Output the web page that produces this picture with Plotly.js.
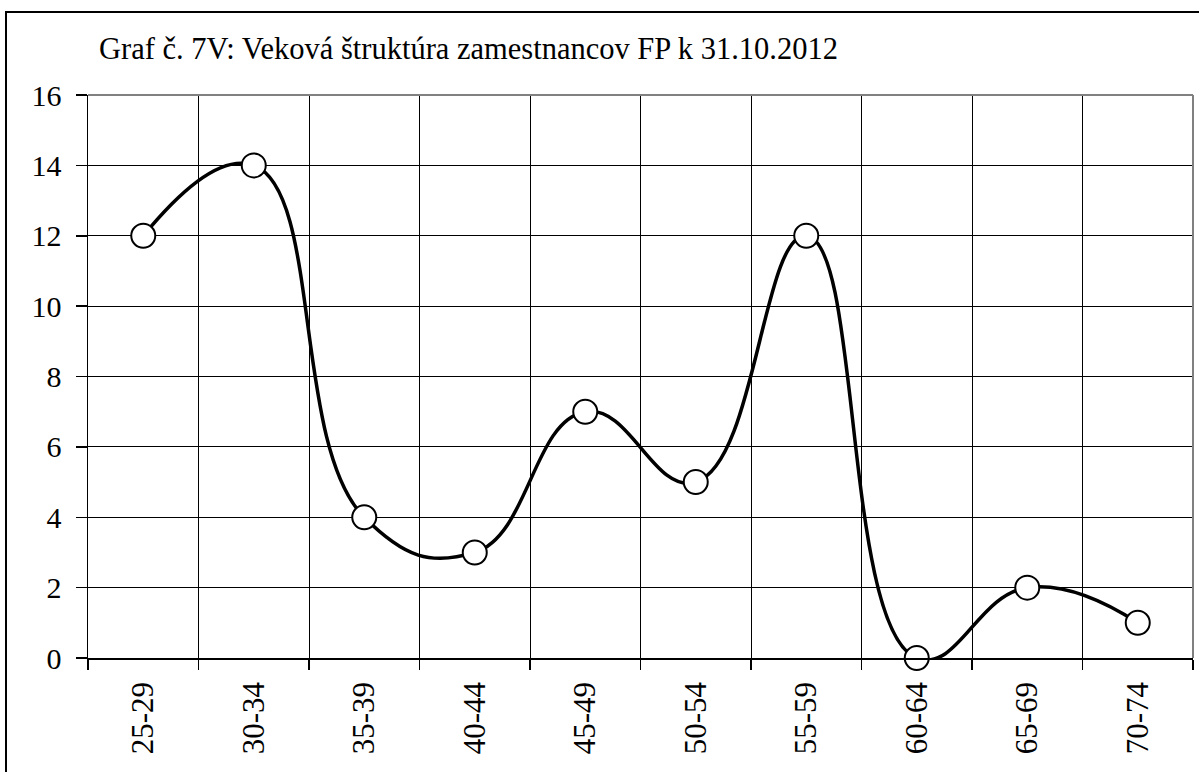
<!DOCTYPE html>
<html>
<head>
<meta charset="utf-8">
<script src="https://cdn.plot.ly/plotly-3.0.1.min.js"></script>
<style>html,body{margin:0;padding:0;background:#fff;}#chart{width:1199px;height:772px;}</style>
</head>
<body>
<div id="chart"></div>
<script>
const categories = ["25-29","30-34","35-39","40-44","45-49","50-54","55-59","60-64","65-69","70-74"];
const values = [12, 14, 4, 3, 7, 5, 12, 0, 2, 1];
const yTicks = [0, 2, 4, 6, 8, 10, 12, 14, 16];
const titleText = "Graf č. 7V: Veková štruktúra zamestnancov FP k 31.10.2012";

const W = 1199, H = 772;
const M = {l: 88, r: 6, t: 95, b: 114};
const pw = W - M.l - M.r, ph = H - M.t - M.b;
const px = v => (v - M.l) / pw;
const py = v => (H - M.b - v) / ph;

const FONT = "Times New Roman, Liberation Serif, serif";

const trace = {
  x: categories,
  y: values,
  type: "scatter",
  mode: "lines+markers",
  line: {color: "#000", width: 3.5, shape: "spline", smoothing: 1.3},
  marker: {size: 24, color: "#fff", line: {color: "#000", width: 2}},
  cliponaxis: false,
  hoverinfo: "skip"
};

const layout = {
  width: W, height: H,
  margin: M,
  paper_bgcolor: "#fff",
  plot_bgcolor: "#fff",
  showlegend: false,
  font: {family: FONT, color: "#000", size: 30},
  title: {
    text: titleText,
    font: {family: FONT, size: 30.5, color: "#000"},
    xref: "paper", x: px(99), xanchor: "left",
    yref: "container", y: 1 - 48 / H, yanchor: "middle"
  },
  xaxis: {
    type: "category",
    tickson: "boundaries",
    showgrid: true, gridcolor: "#000", gridwidth: 1,
    showline: true, linecolor: "#000", linewidth: 1.5,
    ticks: "outside", ticklen: 10, tickcolor: "#000", tickwidth: 1.5,
    tickangle: -90,
    ticklabelstandoff: 10,
    tickfont: {family: FONT, size: 31, color: "#000"},
    zeroline: false,
    range: [-0.5, 9.5],
    fixedrange: true
  },
  yaxis: {
    range: [0, 16],
    tickvals: yTicks,
    showgrid: true, gridcolor: "#000", gridwidth: 1,
    showline: true, linecolor: "#000", linewidth: 1.5,
    ticks: "outside", ticklen: 11, tickcolor: "#000", tickwidth: 1.5,
    ticklabelstandoff: 8,
    tickfont: {family: FONT, size: 30, color: "#000"},
    zeroline: false,
    fixedrange: true
  },
  shapes: [
    {type: "rect", xref: "paper", yref: "paper",
     x0: px(6), x1: px(1205), y0: py(780), y1: py(12),
     line: {color: "#000", width: 2}, fillcolor: "rgba(0,0,0,0)", layer: "above"},
    {type: "line", xref: "paper", yref: "paper",
     x0: 0, x1: 1, y0: 1, y1: 1,
     line: {color: "#808080", width: 2}},
    {type: "line", xref: "paper", yref: "paper",
     x0: 1, x1: 1, y0: 0, y1: 1,
     line: {color: "#808080", width: 2}}
  ]
};

Plotly.newPlot("chart", [trace], layout, {displayModeBar: false, staticPlot: true});
</script>
</body>
</html>
